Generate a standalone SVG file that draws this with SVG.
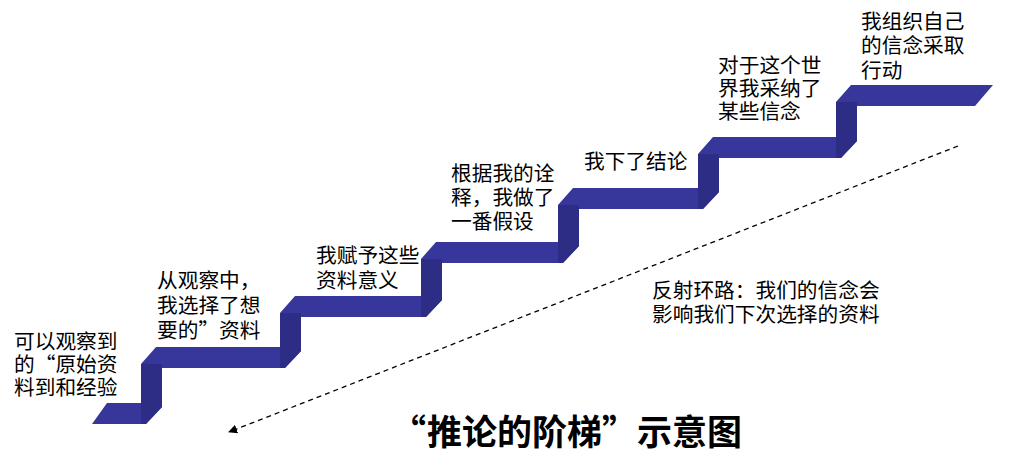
<svg xmlns="http://www.w3.org/2000/svg" width="1010" height="458" viewBox="0 0 1010 458">
<style>
.t{font-family:"Noto Sans CJK SC","Noto Sans",sans-serif;font-size:20.7px;fill:#000}
.title{font-family:"Noto Sans CJK SC","Noto Sans",sans-serif;font-size:35px;font-weight:bold;fill:#000}
.tread{fill:#37379b}
.riser{fill:#2d2d85}
.dash{fill:none;stroke:#000;stroke-width:1.3;stroke-dasharray:5 4}
</style>
<defs>
<marker id="ah" viewBox="0 0 10 10" refX="9" refY="5" markerWidth="9" markerHeight="9" markerUnits="userSpaceOnUse" orient="auto">
<path d="M0,0 L10,5 L0,10 z" fill="#000"/>
</marker>
</defs>
<rect width="1010" height="458" fill="#fff"/>
<g id="ladder">
<polygon class="tread" points="92,424 107,403 141,403 141,364 156,347 280,347 280,313 295,296 421,296 421,259 436,242 558,242 558,205 573,188 698,188 698,154 713,137 836,137 836,102 851,85 993,85 975,106 857,106 857,141 841,158 719,158 719,192 703,209 579,209 579,246 563,263 442,263 442,300 426,317 301,317 301,351 285,368 162,368 162,407 146,424"/>
<polygon class="riser" points="141,364 162,364 162,407 146,424 141,424"/>
<polygon class="riser" points="280,313 301,313 301,351 285,368 280,368"/>
<polygon class="riser" points="421,259 442,259 442,300 426,317 421,317"/>
<polygon class="riser" points="558,205 579,205 579,246 563,263 558,263"/>
<polygon class="riser" points="698,154 719,154 719,192 703,209 698,209"/>
<polygon class="riser" points="836,102 857,102 857,141 841,158 836,158"/>
</g>
<g id="connectors">
<line class="dash" x1="958" y1="146" x2="229" y2="432" marker-end="url(#ah)"/>
</g>
<g id="step1">
<text class="t" x="14" y="348.5">可以观察到</text>
<text class="t" x="14" y="371.8">的“<tspan x="55.4">原始资</tspan></text>
<text class="t" x="14" y="395">料到和经验</text>
</g>
<g id="step2">
<text class="t" x="157" y="288">从观察中，</text>
<text class="t" x="157" y="313">我选择了想</text>
<text class="t" x="157" y="338">要的”<tspan x="219">资料</tspan></text>
</g>
<g id="step3">
<text class="t" x="316" y="262.5">我赋予这些</text>
<text class="t" x="316" y="287.5">资料意义</text>
</g>
<g id="step4">
<text class="t" x="451" y="180.5">根据我的诠</text>
<text class="t" x="451" y="204.5">释，我做了</text>
<text class="t" x="451" y="228.5">一番假设</text>
</g>
<g id="step5">
<text class="t" x="584" y="168.5">我下了结论</text>
</g>
<g id="step6">
<text class="t" x="718" y="72.5">对于这个世</text>
<text class="t" x="718" y="95.5">界我采纳了</text>
<text class="t" x="718" y="118.5">某些信念</text>
</g>
<g id="step7">
<text class="t" x="861" y="29">我组织自己</text>
<text class="t" x="861" y="53">的信念采取</text>
<text class="t" x="861" y="78">行动</text>
</g>
<g id="loop">
<text class="t" x="652" y="298">反射环路：我们的信念会</text>
<text class="t" x="652" y="321.5">影响我们下次选择的资料</text>
</g>
<g id="caption">
<text class="title" x="426" y="445" text-anchor="end">“</text>
<text class="title" x="427" y="445">推论的阶梯”<tspan x="637">示意图</tspan></text>
</g>
</svg>
